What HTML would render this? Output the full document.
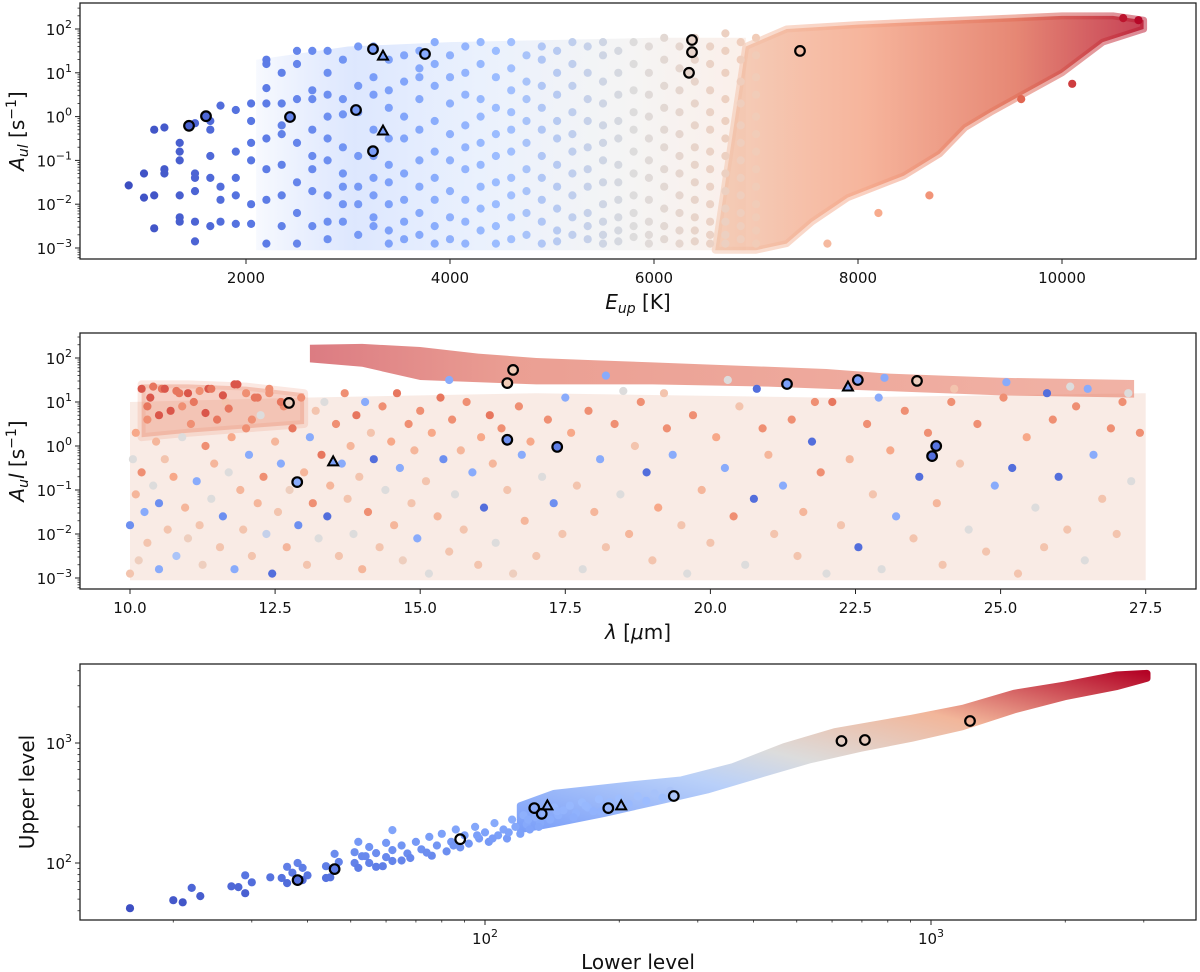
<!DOCTYPE html>
<html><head><meta charset="utf-8"><style>
html,body{margin:0;padding:0;background:#fff;}
svg{display:block;font-family:"DejaVu Sans","Liberation Sans",sans-serif;}
</style></head><body>
<svg id="fig" width="1200" height="972" viewBox="0 0 1200 972" xmlns="http://www.w3.org/2000/svg">
<defs>
<linearGradient id="g1" x1="0" x2="1" y1="0" y2="0"><stop offset="0" stop-color="#f2c4ab"/><stop offset="0.35" stop-color="#f4a283"/><stop offset="0.7" stop-color="#e06a52"/><stop offset="1" stop-color="#b8122b"/></linearGradient>
<linearGradient id="g1h" x1="0" x2="1" y1="0" y2="0"><stop offset="0" stop-color="#7b9ff9" stop-opacity="0.2"/><stop offset="0.2" stop-color="#8fb0fb"/><stop offset="0.45" stop-color="#b9d0f9"/><stop offset="0.75" stop-color="#dcdcdc"/><stop offset="1" stop-color="#f2cbb7"/></linearGradient>
<linearGradient id="g2" x1="0" x2="1" y1="0" y2="0"><stop offset="0" stop-color="#c4242f"/><stop offset="0.25" stop-color="#dd5f4b"/><stop offset="1" stop-color="#e8806a"/></linearGradient>
<linearGradient id="g3" x1="0" x2="1" y1="1" y2="0"><stop offset="0" stop-color="#7b9ff9"/><stop offset="0.3" stop-color="#b9d0f9"/><stop offset="0.45" stop-color="#dcdcdc"/><stop offset="0.7" stop-color="#f2b69a"/><stop offset="1" stop-color="#b40426"/></linearGradient>
</defs>
</svg>
<script>
// ---------- DATA ----------
const p1Cols=[[850,[-1.57]],[1000,[-1.3,-1.85]],[1100,[-1.8,-2.55,-0.3]],[1200,[-1.2,-1.3,-0.25]],
[1350,[-0.8,-0.6,-1.8,-2.4,-1.0,-2.3]],[1500,[-1.4,-0.15,-2.85,-2.4,-1.3,-1.7]],[1650,[-0.9,-0.1,-2.5,-1.4,-0.3]],
[1750,[0.25,-1.6,-2.4,-1.9]],[1900,[-1.8,-2.45,0.15,-1.4,-0.8]],[2050,[-0.1,-1.0,-2.0,-2.45,0.3,-0.6]],
[2200,[1.3,1.2,0.3,-1.2,-1.9,-2.9,0.65,-0.5]],[2350,[1.0,-0.2,0.3,-1.1,-2.5,-1.8,-0.4]],[2500,[1.5,1.2,0.4,-0.6,-1.5,-2.2,-2.9]],
[2650,[0.6,0.4,1.5,-0.3,-1.7,-2.5,-1.2,-0.9]],[2800,[1.5,1.0,0.5,-0.5,-1.0,-1.8,-2.4,-2.8,0.0]],[2950,[1.3,0.4,-0.7,-1.3,-1.6,-2.0,-2.4,0.05]],
[3100,[1.6,0.7,0.1,-0.9,-1.6,-2.0,-2.7]],[3250,[1.6,0.9,-0.3,-0.9,-1.8,-2.3,-2.5,-1.4,0.5]],[3400,[1.3,0.2,-0.5,-1.1,-1.5,-2.0,-2.6,-2.9,0.6]],
[3550,[1.4,0.8,0.0,-0.5,-1.3,-1.9,-2.4,-2.8]],[3700,[1.5,1.1,0.4,-0.3,-1.0,-1.6,-2.2,-2.7,0.9]],[3850,[1.7,1.2,0.7,-0.1,-0.8,-1.4,-1.9,-2.5,-2.9]],
[4000,[1.4,0.9,0.3,-0.4,-1.0,-1.7,-2.3,-2.8]],[4150,[1.6,1.0,0.5,-0.2,-0.7,-1.2,-1.9,-2.4,-2.9]],[4300,[1.7,1.2,0.4,0.0,-0.6,-1.1,-1.6,-2.1,-2.6]],
[4450,[1.5,0.9,0.2,-0.4,-0.9,-1.5,-2.0,-2.5,-2.9]],[4600,[1.7,1.1,0.6,0.1,-0.3,-0.8,-1.4,-1.8,-2.3,-2.8]],[4750,[1.4,0.8,0.4,-0.1,-0.6,-1.2,-1.7,-2.2,-2.7]],
[4900,[1.6,1.3,0.7,0.2,-0.3,-0.9,-1.4,-1.9,-2.4,-2.9]],[5050,[1.5,1.0,0.5,-0.1,-0.5,-1.1,-1.6,-2.1,-2.6,-2.85]],[5200,[1.7,1.2,0.7,0.1,-0.4,-0.8,-1.3,-1.8,-2.3,-2.7]],
[5350,[1.6,1.0,0.4,-0.1,-0.7,-1.2,-1.6,-2.2,-2.5,-2.8]],[5500,[1.7,1.4,0.8,0.3,-0.2,-0.6,-1.0,-1.5,-2.0,-2.4,-2.7,-2.9]],
[5650,[1.5,1.0,0.5,-0.1,-0.5,-1.1,-1.5,-1.9,-2.3,-2.6,-2.85]],[5800,[1.7,1.2,0.6,0.1,-0.3,-0.8,-1.3,-1.8,-2.2,-2.5,-2.75]],
[5950,[1.6,1.0,0.5,0.0,-0.5,-1.0,-1.4,-1.9,-2.4,-2.7,-2.9]],[6100,[1.8,1.3,0.7,0.2,-0.3,-0.7,-1.2,-1.6,-2.1,-2.5,-2.8]],
[6250,[1.6,1.1,0.6,0.1,-0.4,-0.9,-1.3,-1.8,-2.2,-2.6,-2.9]],[6400,[1.8,1.3,0.8,0.3,-0.2,-0.7,-1.1,-1.5,-1.9,-2.3,-2.6,-2.85]],
[6550,[1.6,1.2,0.6,0.1,-0.3,-0.8,-1.2,-1.6,-2.0,-2.4,-2.7,-2.9]],[6700,[1.9,1.5,1.0,0.4,-0.1,-0.5,-0.9,-1.3,-1.7,-2.1,-2.4,-2.7,-2.9]],
[6850,[1.7,1.3,0.8,0.3,-0.2,-0.6,-1.0,-1.4,-1.8,-2.2,-2.5,-2.8]],[7000,[1.8,1.4,0.9,0.5,0.0,-0.4,-0.8,-1.2,-1.6,-2.0,-2.3,-2.6,-2.9]],
[7700,[-2.9]],[8200,[-2.2]],[8700,[-1.8]],[9600,[0.4]],[10100,[0.75]],[10600,[2.25]],[10750,[2.2]]];
const p1DenseUpper=[[6900,1.6],[7300,2.0],[8000,2.1],[8500,2.15],[9000,2.2],[9500,2.25],[10000,2.3],[10500,2.3],[10800,2.2]];
const p1DenseLower=[[10800,2.0],[10400,1.7],[10000,1.0],[9300,0.1],[9050,-0.25],[8800,-0.85],[8450,-1.35],[7900,-1.85],[7550,-2.4],[7300,-2.9],[7000,-3.05],[6600,-3.05]];
const p1HazeUpper=[[2100,1.3],[3000,1.6],[4000,1.7],[5000,1.75],[6000,1.8],[6900,1.8]];
const p1HazeLower=[[6900,-3.05],[2100,-3.05]];
const p1Circles=[[1441,-0.21],[1608,0.01],[2431,-0.01],[3078,0.15],[3245,-0.79],[3245,1.54],[3755,1.43],[6373,1.75],[6373,1.47],[6343,1.0],[7431,1.5]];
const p1Triangles=[[3343,1.38],[3343,-0.33]];
const p1XTicks=[2000,4000,6000,8000,10000];
const logTicks=[-3,-2,-1,0,1,2];

const p2Points=[[10.0,-1.8,0.2],[10.0,-2.9,0.65],[10.05,-0.3,0.5],[10.1,-1.1,0.7],[10.1,0.3,0.75],[10.15,-2.6,0.6],[10.2,-0.6,0.8],[10.25,-1.5,0.3],[10.3,0.6,0.8],[10.3,-2.2,0.65],[10.35,1.1,0.9],[10.4,-0.9,0.5],[10.45,0.1,0.7],[10.5,-1.3,0.2],[10.5,-2.8,0.3],[10.55,1.3,0.85],[10.6,-0.3,0.65],[10.65,-1.9,0.65],[10.7,0.8,0.9],[10.75,-0.7,0.75],[10.8,-2.5,0.4],[10.85,1.2,0.85],[10.9,0.2,0.5],[10.95,-1.4,0.7],[11.0,-2.1,0.6],
[11.05,0.5,0.8],[11.1,1.0,0.85],[11.15,-0.8,0.3],[11.2,-1.8,0.65],[11.25,-2.7,0.6],[11.3,0.0,0.8],[11.35,1.3,0.9],[11.4,-1.2,0.5],[11.45,-0.4,0.7],[11.5,0.6,0.85],[11.55,-2.3,0.65],[11.6,-1.6,0.2],[11.65,1.0,0.65],[11.7,-0.6,0.5],[11.75,0.2,0.75],[11.8,-2.8,0.3],[11.85,1.4,0.9],[11.9,-1.0,0.7],[11.95,-1.9,0.65],[12.0,0.4,0.8],[12.05,-0.2,0.3],[12.1,-2.5,0.65],[12.15,1.1,0.85],[12.2,-1.3,0.7],[12.25,0.7,0.5],[12.3,-0.7,0.8],[12.35,-2.0,0.45],[12.4,1.2,0.8],[12.45,-2.9,0.1],[12.5,0.1,0.7],
[12.55,-1.5,0.65],[12.6,-0.4,0.3],[12.65,0.9,0.8],[12.7,-2.3,0.7],[12.75,-1.0,0.6],[12.8,0.4,0.85],[12.9,-1.8,0.2],[12.95,1.1,0.8],[13.0,-0.6,0.7],[13.05,-2.7,0.65],[13.1,0.2,0.3],[13.15,-1.3,0.8],[13.2,0.8,0.65],[13.25,-2.1,0.5],[13.3,-0.2,0.85],[13.35,1.0,0.5],[13.4,-1.6,0.1],[13.45,-0.9,0.7],[13.55,0.5,0.8],[13.6,-2.5,0.65],[13.65,-0.4,0.3],[13.7,1.2,0.8],[13.75,-1.2,0.65],[13.8,0.0,0.7],[13.85,-2.0,0.5],[13.9,0.7,0.85],[13.95,-0.7,0.65],[14.0,-2.8,0.7],[14.05,1.0,0.3],[14.1,-1.5,0.8],[14.15,0.3,0.65],[14.2,-0.3,0.1],[14.3,-2.3,0.65],[14.35,0.9,0.8],[14.4,-1.0,0.5],[14.5,0.1,0.75],[14.55,-1.8,0.7],[14.6,1.2,0.85],[14.65,-0.5,0.3],[14.7,-2.6,0.6],[14.8,0.5,0.8],[14.85,-1.3,0.65],[14.9,-0.1,0.7],[14.95,-2.1,0.3],
[15.0,0.8,0.8],[15.1,-0.8,0.65],[15.15,-2.9,0.5],[15.2,0.3,0.75],[15.3,-1.6,0.7],[15.35,1.1,0.85],[15.4,-0.3,0.2],[15.5,-2.4,0.65],[15.55,0.6,0.8],[15.6,-1.1,0.5],[15.7,-0.1,0.7],[15.75,-1.9,0.65],[15.8,1.0,0.8],[15.9,-0.6,0.3],[16.0,-2.7,0.65],[16.05,0.2,0.75],[16.1,-1.4,0.1],[16.2,0.7,0.85],[16.25,-0.4,0.7],[16.3,-2.2,0.5],[16.4,0.4,0.8],[16.5,-1.0,0.65],[16.6,-2.9,0.6],[16.7,0.9,0.8],[16.75,-0.2,0.3],[16.8,-1.7,0.7],[16.9,0.1,0.75],[17.0,-2.5,0.65],[17.1,-0.7,0.5],[17.2,0.6,0.8],[17.3,-1.3,0.2],[17.45,-2.0,0.65],
[17.6,0.3,0.75],[17.7,-0.9,0.65],[17.8,-2.8,0.5],[17.9,0.8,0.8],[18.0,-1.5,0.7],[18.1,-0.3,0.3],[18.2,-2.3,0.65],[18.35,0.5,0.8],[18.45,-1.1,0.5],[18.6,-2.0,0.7],[18.7,0.0,0.65],[18.8,1.0,0.8],[18.9,-0.6,0.1],[19.0,-2.6,0.65],[19.1,-1.4,0.75],[19.25,0.4,0.8],[19.35,-0.2,0.3],[19.5,-1.8,0.65],[19.6,-2.9,0.5],[19.7,0.7,0.8],[19.85,-1.0,0.7],
[20.0,-2.2,0.65],[20.1,0.2,0.75],[20.25,-0.5,0.3],[20.4,-1.6,0.8],[20.5,0.9,0.65],[20.6,-2.7,0.5],[20.75,-1.2,0.1],[20.9,0.4,0.8],[21.0,-0.2,0.7],[21.1,-2.0,0.65],[21.25,-0.9,0.3],[21.4,0.6,0.8],[21.5,-2.5,0.65],[21.6,-1.5,0.7],[21.75,0.1,0.1],[21.9,-0.6,0.8],[22.0,-2.9,0.5],[22.1,1.0,0.85],[22.25,-1.8,0.65],[22.4,-0.3,0.7],
[22.55,-2.3,0.1],[22.7,0.5,0.8],[22.8,-1.1,0.65],[22.95,-2.8,0.5],[23.1,-0.1,0.75],[23.2,-1.6,0.3],[23.35,0.8,0.8],[23.5,-2.1,0.65],[23.6,-0.7,0.1],[23.75,0.3,0.8],[23.9,-1.3,0.7],[24.0,-2.7,0.65],[24.15,1.0,0.8],[24.3,-0.4,0.65],[24.45,-1.9,0.5],[24.6,0.5,0.8],[24.75,-2.4,0.65],[24.9,-0.9,0.3],
[25.05,1.1,0.8],[25.2,-0.5,0.1],[25.3,-2.9,0.65],[25.45,0.2,0.75],[25.6,-1.4,0.5],[25.75,-2.3,0.65],[25.9,0.6,0.8],[26.0,-0.7,0.1],[26.15,-1.9,0.65],[26.3,0.9,0.8],[26.45,-2.6,0.5],[26.6,-0.2,0.3],[26.75,-1.2,0.65],[26.9,0.4,0.8],[27.0,-2.0,0.65],[27.1,1.0,0.8],[27.25,-0.8,0.5],[27.4,0.3,0.8],
[17.5,1.1,0.3],[19.2,1.2,0.65],[20.8,1.3,0.1],[22.9,1.1,0.3],[24.2,1.3,0.65],[25.8,1.2,0.1],[26.5,1.3,0.3],[27.2,1.2,0.5],[21.8,1.0,0.8],[18.5,1.25,0.5],
[10.2,1.3,0.9],[10.4,1.35,0.85],[10.6,1.3,0.9],[10.8,1.25,0.85],[11.0,1.2,0.9],[11.2,1.25,0.8],[11.4,1.3,0.85],[11.6,1.15,0.9],[11.8,1.4,0.9],[12.0,1.2,0.8],[12.2,1.1,0.85],[12.4,1.3,0.8],[12.6,1.0,0.85],[10.3,0.9,0.85],[10.5,0.7,0.9],[10.9,0.9,0.8],[11.3,0.75,0.9],[11.7,0.85,0.85],[12.1,0.6,0.8],
[15.5,1.5,0.3],[18.2,1.6,0.3],[20.3,1.5,0.5],[23.0,1.55,0.3],[25.1,1.45,0.3],[26.2,1.35,0.5]];
const p2BandUpper=[[13.1,2.3],[14,2.32],[15,2.25],[16,2.1],[17,2.0],[18,1.95],[19,1.9],[20,1.85],[21,1.8],[22,1.75],[23,1.65],[24,1.6],[25,1.55],[27.3,1.5]];
const p2BandLower=[[27.3,1.1],[25,1.15],[23,1.25],[21,1.35],[19,1.4],[17,1.4],[15,1.5],[14,1.8],[13.1,1.9]];
const p2LeftBandUpper=[[10.2,1.4],[11,1.4],[12,1.35],[13,1.2]];
const p2LeftBandLower=[[13,0.5],[12,0.4],[11,0.3],[10.2,0.2]];
const p2HazeUpper=[[10.0,1.0],[13,1.1],[17,1.2],[22,1.1],[27.5,1.2]];
const p2HazeLower=[[27.5,-3.05],[10.0,-3.05]];
const p2Circles=[[12.74,0.98,0.6],[12.88,-0.82,0.3],[16.5,1.43,0.62],[16.6,1.73,0.62],[16.5,0.14,0.2],[17.36,-0.02,0.15],[21.32,1.41,0.25],[22.54,1.5,0.25],[23.56,1.48,0.6],[23.89,0.0,0.12],[23.82,-0.23,0.1]];
const p2Triangles=[[13.5,-0.36,0.25],[22.37,1.34,0.25]];
const p2XTicks=[10.0,12.5,15.0,17.5,20.0,22.5,25.0,27.5];

const p3Points=[[16,42],[20,49],[21,47],[22,62],[23,53],[27,64],[28,63],[29,79],[29,56],[30,69],[33,76],[35,75],[36,93],[36,68],[38,100],[37,83],[39,91],[40,79],[39,72],[44,94],[44,75],[45,76],[46,119],[47,102],[51,123],[51,100],[52,150],[52,91],[53,114],[54,114],[55,136],[55,100],[57,121],[57,93],[59,94],[60,147],[60,112],[62,188],[62,128],[62,104],
[65,105],[65,140],[67,120],[70,150],[72,130],[75,165],[76,115],[78,140],[80,175],[82,125],[84,150],[86,190],[88,135],[90,170],[92,145],[95,200],[97,160],[100,180],[102,150],[105,215],[107,170],[110,190],[112,160],[115,230],[117,200],[120,175],[122,250],[124,210],[126,190],[130,240],[133,215],[136,260],[140,230],[143,290],[146,250],[150,275],[155,300],[160,260],[165,320],[170,290],[175,270],[180,340],[185,300],[190,320],[195,280],[200,345],[210,310],[220,360],[230,330],[240,380],[250,350],[260,400],[68,110],[74,122],[85,140],[96,170],[104,160],[113,180],[125,230],[132,200],[145,270],[158,240],[168,300],[182,270]];
const p3BandUpper=[[120,300],[143,381],[212,447],[275,492],[359,633],[468,932],[608,1242],[904,1607],[1177,1945],[1533,2594],[1995,3040],[2600,3690],[3050,3800]];
const p3BandLower=[[3050,3460],[2600,2945],[1995,2430],[1533,1884],[1177,1367],[904,1094],[695,903],[533,721],[409,541],[315,406],[242,324],[185,259],[143,214],[120,190]];
const p3Circles=[[38,72],[46,89],[88,158],[129,287],[134,257],[189,287],[265,362],[630,1040],[711,1060],[1223,1525]];
const p3Triangles=[[138,299],[202,299]];

// ---------- helpers ----------
const NS='http://www.w3.org/2000/svg';
const svg=document.getElementById('fig');
function mk(tag,attrs,parent){const e=document.createElementNS(NS,tag);for(const k in attrs)e.setAttribute(k,attrs[k]);(parent||svg).appendChild(e);return e;}
const CW=[[0,[59,76,192]],[0.125,[89,119,227]],[0.25,[123,159,249]],[0.375,[158,190,255]],[0.5,[221,220,220]],[0.625,[242,203,183]],[0.75,[247,168,137]],[0.875,[227,106,83]],[1,[180,4,38]]];
function cw(t){t=Math.max(0,Math.min(1,t));for(let i=1;i<CW.length;i++){if(t<=CW[i][0]){const a=CW[i-1],b=CW[i],f=(t-a[0])/(b[0]-a[0]);return 'rgb('+a[1].map((v,j)=>Math.round(v+(b[1][j]-v)*f)).join(',')+')';}}return 'rgb(180,4,38)';}
const eupT=e=>(e-800)/10000;
const X1=e=>42+e*0.102, Y1=l=>29+(2-l)*43.8;
const X2=l=>130+(l-10)*58.04, Y2=l=>358+(2-l)*44;
const X3=v=>485+(Math.log10(v)-2)*446, Y3=v=>863-(Math.log10(v)-2)*120;
const lvlT=v=>{const lg=Math.log10(v);return lg<2.85?0.5-(2.85-lg)/1.25*0.5:0.5+(lg-2.85)*0.694;};
const R=4.1;

function frame(name,top,bottom){
  mk('rect',{x:80,y:top,width:1116,height:bottom-top,fill:'none',stroke:'#222','stroke-width':1.3,});
}
function dot(g,x,y,fill,name){const c=mk('circle',{cx:x.toFixed(1),cy:y.toFixed(1),r:R,fill:fill},g);

return c;}
function ring(g,x,y,fill,name){const c=mk('circle',{cx:x.toFixed(1),cy:y.toFixed(1),r:4.8,fill:fill,stroke:'#000','stroke-width':2.2},g);

}
function tri(g,x,y,fill,name){const p=mk('polygon',{points:`${x},${y-5.5} ${x-5},${y+3.5} ${x+5},${y+3.5}`,fill:fill,stroke:'#000','stroke-width':2},g);

}
function xtick(x,yb,label,name){mk('line',{x1:x,x2:x,y1:yb,y2:yb+5,stroke:'#222','stroke-width':1});
const t=mk('text',{x:x,y:yb+24,'text-anchor':'middle','font-size':15,fill:'#111'});t.textContent=label;

}
function xminor(x,yb){mk('line',{x1:x,x2:x,y1:yb,y2:yb+2.5,stroke:'#222','stroke-width':0.8});}
function ytickLog(y,exp,name){mk('line',{x1:75,x2:80,y1:y,y2:y,stroke:'#222','stroke-width':1});
const t=mk('text',{x:72,y:y+6,'text-anchor':'end','font-size':15,fill:'#111'});


const a=mk('tspan',{},t);a.textContent='10';const b=mk('tspan',{dy:-7,'font-size':11},t);b.textContent=(exp<0?'\u2212'+(-exp):''+exp);}
function yminor(y){mk('line',{x1:77.5,x2:80,y1:y,y2:y,stroke:'#222','stroke-width':0.8});}
function logMinorsY(Yf,lo,hi,top,bottom){for(let d=lo;d<=hi;d++)for(let m=2;m<=9;m++){const y=Yf(d+Math.log10(m));if(y>top&&y<bottom)yminor(y);}}
function polyStr(arr,Xf,Yf){return arr.map(p=>Xf(p[0]).toFixed(1)+','+Yf(p[1]).toFixed(1)).join(' ');}

// ---------- PANEL 1 ----------
const g1=mk('g',{});
mk('polygon',{points:polyStr([...p1HazeUpper,...p1HazeLower],X1,Y1),fill:'url(#g1h)','fill-opacity':0.3,},g1);
mk('polygon',{points:polyStr([...p1DenseUpper,...p1DenseLower],X1,Y1),fill:'url(#g1)','fill-opacity':0.8,stroke:'url(#g1)','stroke-opacity':0.5,'stroke-width':7,'stroke-linejoin':'round',},g1);
p1Cols.forEach(c=>c[1].forEach(l=>dot(g1,X1(c[0]),Y1(l),cw(eupT(c[0])),'transition-point')));
p1Circles.forEach(p=>ring(g1,X1(p[0]),Y1(p[1]),cw(eupT(p[0])),'highlight-circle'));
p1Triangles.forEach(p=>tri(g1,X1(p[0]),Y1(p[1]),cw(eupT(p[0])),'highlight-triangle'));
frame('panel1',3,259);
p1XTicks.forEach(v=>xtick(X1(v),259,String(v),'x-tick-label'));
logTicks.forEach(e=>ytickLog(Y1(e),e,'y-tick-label'));
logMinorsY(Y1,-4,2,3,259);
{const t=mk('text',{x:638,y:309,'text-anchor':'middle','font-size':20,fill:'#111',});
t.innerHTML='<tspan font-style="italic">E</tspan><tspan font-style="italic" font-size="14" dy="4">up</tspan><tspan dy="-4"> [K]</tspan>';}
{const t=mk('text',{x:0,y:0,transform:'translate(24,131) rotate(-90)','text-anchor':'middle','font-size':20,fill:'#111',});
t.innerHTML='<tspan font-style="italic">A</tspan><tspan font-style="italic" font-size="14" dy="4">ul</tspan><tspan dy="-4"> [s</tspan><tspan font-size="14" dy="-8">\u22121</tspan><tspan dy="8">]</tspan>';}

// ---------- PANEL 2 ----------
const g2=mk('g',{});
mk('polygon',{points:polyStr([...p2HazeUpper,...p2HazeLower],X2,Y2),fill:'#ecc0ad','fill-opacity':0.32,},g2);
mk('polygon',{points:polyStr([...p2LeftBandUpper,...p2LeftBandLower],X2,Y2),fill:'#ea8a6d','fill-opacity':0.4,stroke:'#ea8a6d','stroke-opacity':0.2,'stroke-width':8,'stroke-linejoin':'round',},g2);
mk('polygon',{points:polyStr([...p2BandUpper,...p2BandLower],X2,Y2),fill:'url(#g2)','fill-opacity':0.6,},g2);
p2Points.forEach(p=>dot(g2,X2(p[0]),Y2(p[1]),cw(p[2]),'line-point'));
p2Circles.forEach(p=>ring(g2,X2(p[0]),Y2(p[1]),cw(p[2]),'highlight-circle'));
p2Triangles.forEach(p=>tri(g2,X2(p[0]),Y2(p[1]),cw(p[2]),'highlight-triangle'));
frame('panel2',333,589);
p2XTicks.forEach(v=>xtick(X2(v),589,v.toFixed(1),'x-tick-label'));
logTicks.forEach(e=>ytickLog(Y2(e),e,'y-tick-label'));
logMinorsY(Y2,-4,2,333,589);
{const t=mk('text',{x:638,y:639,'text-anchor':'middle','font-size':20,fill:'#111',});
t.innerHTML='<tspan font-style="italic">\u03bb</tspan> [<tspan font-style="italic">\u03bc</tspan>m]';}
{const t=mk('text',{x:0,y:0,transform:'translate(24,461) rotate(-90)','text-anchor':'middle','font-size':20,fill:'#111',});
t.innerHTML='<tspan font-style="italic">A</tspan><tspan font-style="italic" font-size="14" dy="4">u</tspan><tspan dy="-4" font-style="italic">l</tspan> [s<tspan font-size="14" dy="-8">\u22121</tspan><tspan dy="8">]</tspan>';}

// ---------- PANEL 3 ----------
const g3=mk('g',{});
mk('polygon',{points:polyStr([...p3BandUpper,...p3BandLower],X3,Y3),fill:'url(#g3)','stroke':'url(#g3)','stroke-width':7,'stroke-linejoin':'round',},g3);
p3Points.forEach(p=>dot(g3,X3(p[0]),Y3(p[1]),cw(lvlT(p[1])),'level-point'));
p3Circles.forEach(p=>ring(g3,X3(p[0]),Y3(p[1]),p[0]<50?cw(lvlT(p[1])):'none','highlight-circle'));
p3Triangles.forEach(p=>tri(g3,X3(p[0]),Y3(p[1]),'none','highlight-triangle'));
frame('panel3',664,920);
[2,3].forEach(e=>xtick(X3(Math.pow(10,e)),920,'','x-tick'));
[2,3].forEach(e=>{const t=mk('text',{x:X3(Math.pow(10,e)),y:944,'text-anchor':'middle','font-size':15,fill:'#111'});


const a=mk('tspan',{},t);a.textContent='10';const b=mk('tspan',{dy:-7,'font-size':11},t);b.textContent=String(e);});
for(let d=1;d<=3;d++)for(let m=2;m<=9;m++){const x=X3(m*Math.pow(10,d));if(x>80&&x<1196)xminor(x,920);}
[2,3].forEach(e=>ytickLog(Y3(Math.pow(10,e)),e,'y-tick-label'));
for(let d=1;d<=3;d++)for(let m=2;m<=9;m++){const y=Y3(m*Math.pow(10,d));if(y>664&&y<920)yminor(y);}
{const t=mk('text',{x:638,y:969,'text-anchor':'middle','font-size':20,fill:'#111',});t.textContent='Lower level';}
{const t=mk('text',{x:0,y:0,transform:'translate(34,792) rotate(-90)','text-anchor':'middle','font-size':20,fill:'#111',});t.textContent='Upper level';}
</script>
</body></html>
